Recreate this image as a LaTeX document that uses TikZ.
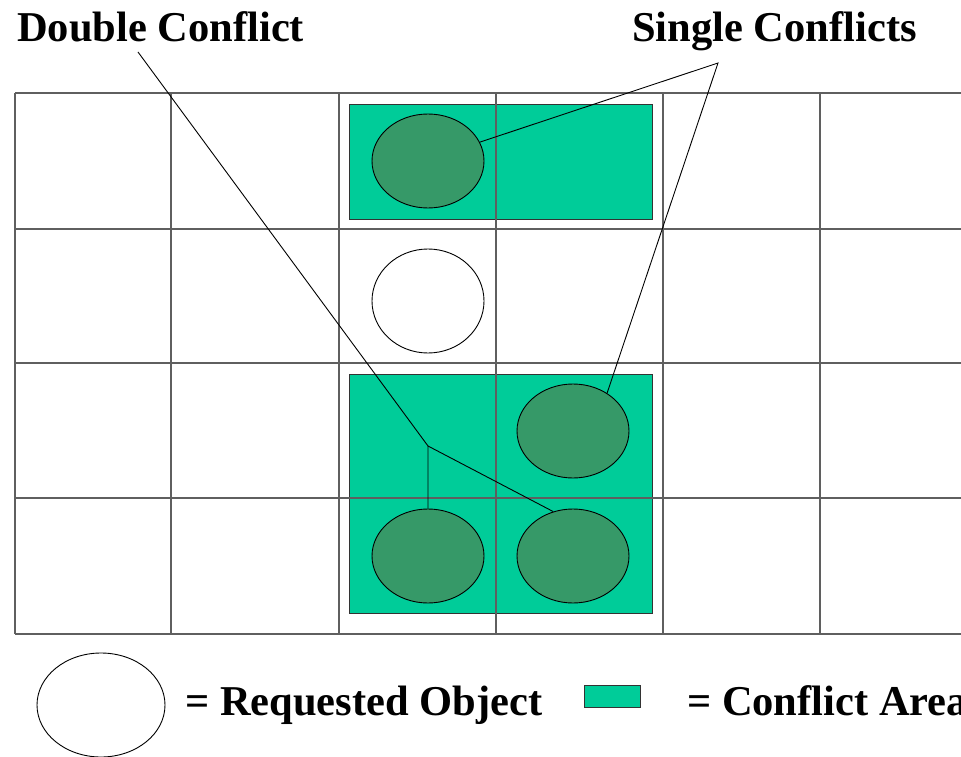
\documentclass[tikz,border=0pt]{standalone}
\usepackage{fontspec}
\setmainfont{Liberation Serif}
\usetikzlibrary{shapes.geometric}
\definecolor{areagreen}{RGB}{0,204,153}
\definecolor{objgreen}{RGB}{54,153,104}
\definecolor{gridgray}{RGB}{95,95,95}
\begin{document}
\begin{tikzpicture}[x=1pt,y=-1pt,
  gridline/.style={draw=gridgray,line width=1.3pt},
  area/.style={fill=areagreen,draw=black!80,line width=0.9pt},
  obj/.style={ellipse,draw=black,line width=0.9pt,inner sep=0pt,
    minimum width=112pt,minimum height=94pt},
  hit/.style={obj,fill=objgreen},
  leader/.style={draw=black,line width=0.9pt},
  label/.style={inner sep=0pt,anchor=base west,
    font=\fontsize{42.5pt}{48pt}\selectfont\bfseries}]
\useasboundingbox (0,0) rectangle (961,757);
\clip (0,0) rectangle (961,757);
\fill[white] (0,0) rectangle (961,757);

% conflict areas
\path[area] (349,104) rectangle (652,219);
\path[area] (349,374) rectangle (652,613);

% grid
\foreach \gx in {15,171,339,496,663,820}
  \draw[gridline] (\gx,93) -- (\gx,634);
\foreach \gy in {93,229,363,498,634}
  \draw[gridline] (15,\gy) -- (975,\gy);

% objects
\node[hit] (top) at (428,161) {};
\node[obj,minimum height=104pt] (req) at (428,301) {};
\node[hit] (tr) at (573,431) {};
\node[hit] (bl) at (428,556) {};
\node[hit] (br) at (573,556) {};

% captions
\node[label] (dbl) at (17,42) {Double Conflict};
\node[label] (sgl) at (632,42) {Single Conflicts};

% leader lines
\coordinate (dstart) at (138,52);
\coordinate (fork) at (428,446);
\coordinate (sapex) at (718,63);
\draw[leader] (dstart) -- (fork) -- (bl.north);
\draw[leader] (fork) -- (br.114);
\draw[leader] (top.20) -- (sapex) -- (tr.48);

% legend
\node[obj,minimum width=128pt,minimum height=104pt] (legobj) at (101,705) {};
\node[label] (legobjtxt) at (185,715) {= Requested Object};
\node[area,inner sep=0pt,minimum width=56pt,minimum height=22pt] (legarea) at (612,696) {};
\node[label] (legareatxt) at (687,715) {= Conflict Area};
\end{tikzpicture}
\end{document}
